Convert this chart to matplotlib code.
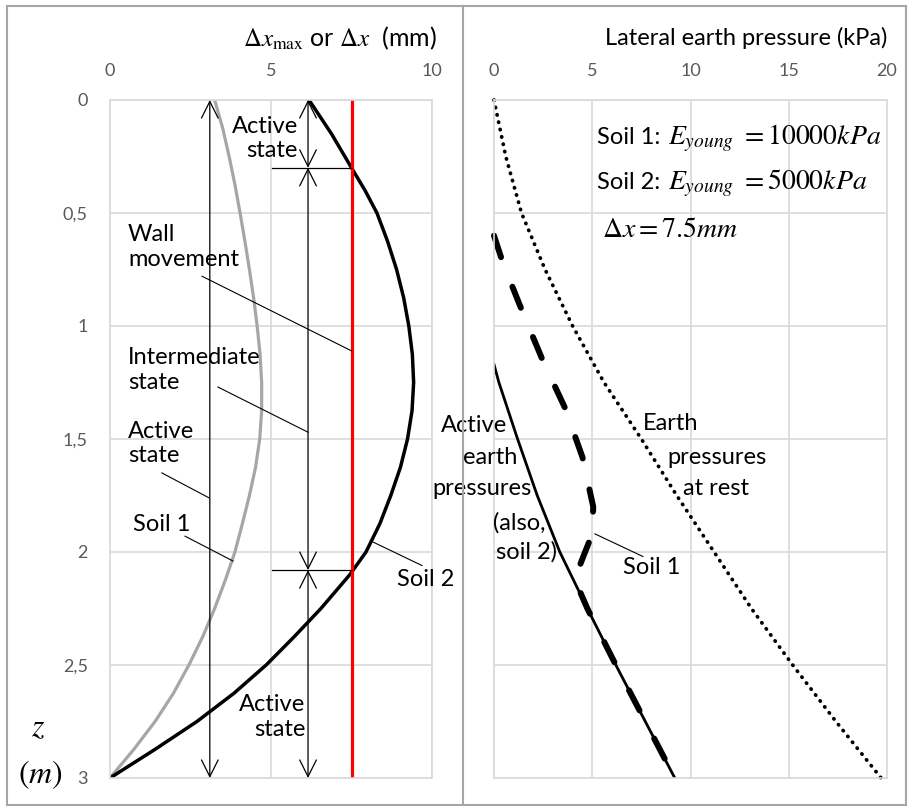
import numpy as np
import matplotlib
matplotlib.use('Agg')
import matplotlib.pyplot as plt
from matplotlib.lines import Line2D
from matplotlib.ticker import FuncFormatter

plt.rcParams['font.family'] = ['Lato', 'DejaVu Sans']
plt.rcParams['mathtext.fontset'] = 'stix'

# ---- data ----
# left panel: wall movement profiles (mm) vs depth z (m)
z_soil1 = [0.0, 0.125, 0.25, 0.375, 0.5, 0.625, 0.75, 0.875, 1.0, 1.125, 1.25, 1.375, 1.5,
           1.625, 1.75, 1.875, 2.0, 2.125, 2.25, 2.375, 2.5, 2.625, 2.75, 2.875, 3.0]
dx_soil1 = [3.25, 3.5, 3.7, 3.88, 4.04, 4.19, 4.33, 4.46, 4.57, 4.66, 4.71, 4.71, 4.65,
            4.52, 4.33, 4.11, 3.88, 3.58, 3.25, 2.88, 2.45, 1.97, 1.4, 0.73, 0.0]
z_soil2 = [0.0, 0.15, 0.3, 0.4, 0.5, 0.625, 0.75, 0.875, 1.0, 1.125, 1.25, 1.375, 1.5, 1.625,
           1.75, 1.875, 2.0, 2.1, 2.25, 2.375, 2.5, 2.625, 2.75, 2.875, 3.0]
dx_soil2 = [6.18, 6.88, 7.5, 7.92, 8.29, 8.62, 8.9, 9.12, 9.28, 9.39, 9.43, 9.38, 9.24, 9.02,
            8.72, 8.38, 7.95, 7.45, 6.55, 5.72, 4.85, 3.85, 2.7, 1.38, 0.0]
dx_wall = 7.5
z_limits = [0.3, 2.08]  # depths where soil 2 curve meets the wall movement line

# right panel: lateral earth pressure (kPa) vs depth z (m)
z_rest = [0.0, 0.25, 0.5, 0.75, 1.0, 1.25, 1.5, 1.75, 2.0, 2.25, 2.5, 2.75, 3.0]
p_rest = [0.0, 0.6, 1.4, 2.6, 4.0, 5.6, 7.5, 9.3, 11.2, 13.1, 15.2, 17.4, 19.7]
z_active = [1.17, 1.25, 1.5, 1.75, 2.0, 2.25, 2.5, 2.75, 3.0]
p_active = [0.0, 0.25, 1.2, 2.2, 3.35, 4.75, 6.2, 7.7, 9.2]
z_p1 = [0.6, 0.72, 0.94, 1.15, 1.36, 1.58, 1.8, 1.92, 2.03, 2.12, 2.25, 2.5, 2.75, 3.0]
p_p1 = [0.0, 0.45, 1.46, 2.47, 3.6, 4.5, 5.05, 5.0, 4.5, 4.1, 4.75, 6.2, 7.7, 9.2]

fig = plt.figure(figsize=(9.09, 8.07), dpi=100)
W, H = 909.0, 807.0

def px_axes(x0, x1, y0, y1):
    return fig.add_axes([x0 / W, 1 - y1 / H, (x1 - x0) / W, (y1 - y0) / H])

axL = px_axes(110, 432, 100, 778)
axR = px_axes(494, 887, 100, 778)

grid_c = '#d9d9d9'
tick_c = '#595959'
for ax in (axL, axR):
    ax.set_ylim(3, 0)
    ax.xaxis.tick_top()
    ax.grid(True, color=grid_c, lw=1.2)
    ax.set_axisbelow(True)
    for s in ax.spines.values():
        s.set_color(grid_c)
        s.set_linewidth(1.2)
    ax.tick_params(length=0, colors=tick_c, labelsize=13)
    ax.tick_params(axis='x', pad=15)

axL.set_xlim(0, 10)
axL.set_xticks([0, 5, 10])
axL.set_yticks([0, 0.5, 1, 1.5, 2, 2.5, 3])
axL.yaxis.set_major_formatter(FuncFormatter(lambda v, p: ('%g' % v).replace('.', ',')))
axL.tick_params(axis='y', pad=16)

axR.set_xlim(0, 20)
axR.set_xticks([0, 5, 10, 15, 20])
axR.set_yticks([0, 0.5, 1, 1.5, 2, 2.5, 3])
axR.tick_params(axis='y', labelleft=False)

# ---- left panel curves ----
axL.plot(dx_soil1, z_soil1, color='#a6a6a6', lw=2.3, solid_capstyle='round')
axL.plot(dx_soil2, z_soil2, color='black', lw=2.5, solid_capstyle='round')
axL.axvline(dx_wall, color='#ff0000', lw=2.3)

arrow = dict(arrowstyle='<->,head_length=0.4,head_width=0.2', color='black', lw=0.9,
             mutation_scale=30, shrinkA=0, shrinkB=0)
axL.annotate('', xy=(3.1, 3.0), xytext=(3.1, 0.0), arrowprops=arrow)
segs = [0.0] + z_limits + [3.0]
for a, b in zip(segs[:-1], segs[1:]):
    axL.annotate('', xy=(6.15, b), xytext=(6.15, a), arrowprops=arrow)
for zl in z_limits:
    axL.plot([5.03, dx_wall], [zl, zl], color='black', lw=0.9)

# pointer lines
ptr = dict(color='black', lw=0.8)
axL.plot([2.86, 7.5], [0.78, 1.11], **ptr)
axL.plot([3.35, 6.15], [1.27, 1.47], **ptr)
axL.plot([1.61, 3.07], [1.65, 1.76], **ptr)
axL.plot([2.33, 3.82], [1.93, 2.04], **ptr)
axL.plot([8.17, 9.69], [1.956, 2.06], **ptr, clip_on=False)

fs = 17
axL.text(5.84, 0.17, 'Active\nstate', ha='right', va='center', fontsize=fs, linespacing=1.2)
axL.text(0.56, 0.65, 'Wall\nmovement', ha='left', va='center', fontsize=fs, linespacing=1.2)
axL.text(0.56, 1.195, 'Intermediate\nstate', ha='left', va='center', fontsize=fs, linespacing=1.2)
axL.text(0.56, 1.52, 'Active\nstate', ha='left', va='center', fontsize=fs, linespacing=1.2)
axL.text(0.71, 1.88, 'Soil 1', ha='left', va='center', fontsize=fs)
axL.text(8.91, 2.12, 'Soil 2', ha='left', va='center', fontsize=fs, clip_on=False)
axL.text(6.06, 2.73, 'Active\nstate', ha='right', va='center', fontsize=fs, linespacing=1.2)

# ---- right panel curves ----
axR.plot(p_rest, z_rest, color='black', lw=2.7, linestyle=(0, (0.1, 1.9)),
         dash_capstyle='round', clip_on=False)
axR.plot(p_active, z_active, color='black', lw=2.0)
axR.plot(p_p1, z_p1, color='black', lw=4.3, linestyle=(0, (3.8, 5.3)),
         dash_capstyle='round', clip_on=False)
axR.plot([5.14, 7.58], [1.92, 2.02], **ptr)

act_lines = ['Active', 'earth', 'pressures', '(also,', 'soil 2)']
act_x = [0.66, 1.17, 1.93, 2.6, 3.2]
act_z = [1.44, 1.58, 1.72, 1.87, 2.0]
for t, x, z in zip(act_lines, act_x, act_z):
    axR.text(x, z, t, ha='right', va='center', fontsize=fs, clip_on=False)
rest_lines = ['Earth', 'pressures', 'at rest']
rest_x = [7.58, 8.8, 9.62]
rest_z = [1.43, 1.58, 1.72]
for t, x, z in zip(rest_lines, rest_x, rest_z):
    axR.text(x, z, t, ha='left', va='center', fontsize=fs)
axR.text(6.56, 2.07, 'Soil 1', ha='left', va='center', fontsize=fs)

axR.text(5.24, 0.168, 'Soil 1:', ha='left', va='center', fontsize=fs)
axR.text(8.85, 0.168, r'$E_{young}\ =10000kPa$', ha='left', va='center', fontsize=20)
axR.text(5.24, 0.367, 'Soil 2:', ha='left', va='center', fontsize=fs)
axR.text(8.85, 0.367, r'$E_{young}\ =5000kPa$', ha='left', va='center', fontsize=20)
axR.text(5.5, 0.57, r'$\Delta x = 7.5mm$', ha='left', va='center', fontsize=20)

# axis titles
fig.text(437 / W, 1 - 38 / H, r'$\Delta x_{\mathrm{max}}$ or $\Delta x$  (mm)', ha='right',
         va='center', fontsize=18)
fig.text(887 / W, 1 - 38 / H, 'Lateral earth pressure (kPa)', ha='right', va='center', fontsize=17)
fig.text(38 / W, 1 - 727 / H, r'$z$', ha='center', va='center', fontsize=23)
fig.text(40 / W, 1 - 775 / H, r'$(m)$', ha='center', va='center', fontsize=23)

# outer frame and divider
fc = '#a6a6a6'
for xs, ys in [([7, 906], [6, 6]), ([7, 906], [805, 805]), ([7, 7], [6, 805]),
               ([906, 906], [6, 805]), ([463, 463], [6, 805])]:
    fig.add_artist(Line2D([x / W for x in xs], [1 - y / H for y in ys], color=fc, lw=1.5))

fig.savefig('out.png', dpi=100)
